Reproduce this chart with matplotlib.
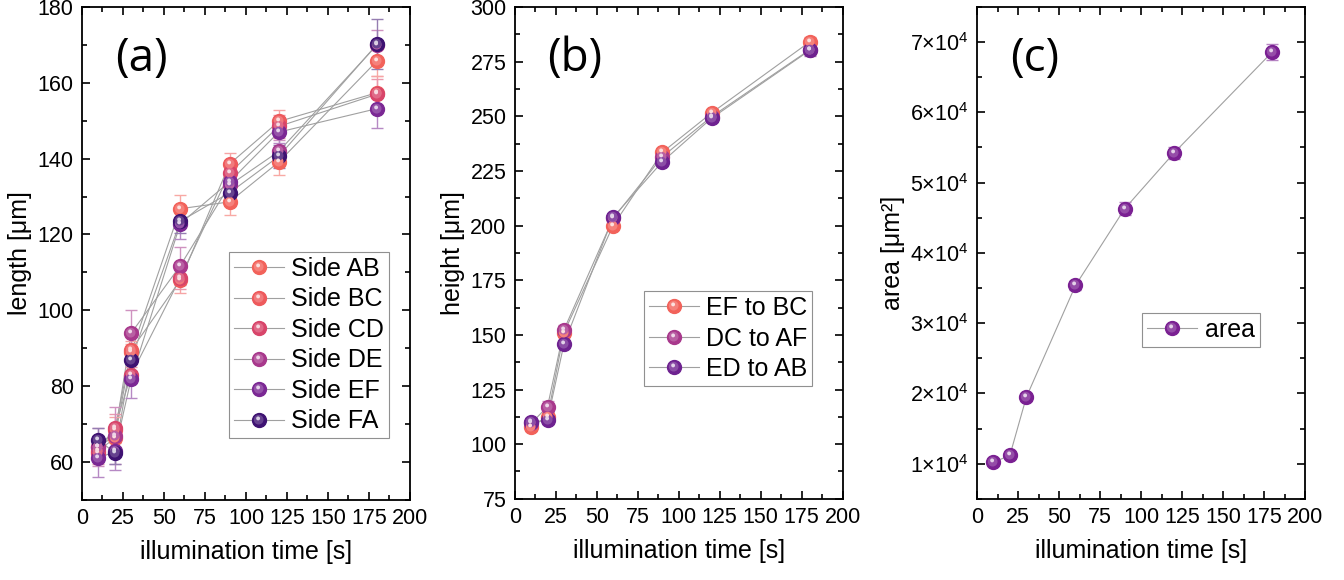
import matplotlib.pyplot as plt
import matplotlib.colors as mcolors
import numpy as np
from matplotlib.path import Path
from matplotlib.legend_handler import HandlerTuple
from matplotlib.ticker import MultipleLocator, FuncFormatter

plt.rcParams['font.family'] = ['Liberation Sans', 'DejaVu Sans']
plt.rcParams['mathtext.fontset'] = 'custom'
plt.rcParams['mathtext.rm'] = 'Liberation Sans'

# illumination times [s]
time_s = [10, 20, 30, 60, 90, 120, 180]

# (a) side lengths [um]
side_labels = ['Side AB', 'Side BC', 'Side CD', 'Side DE', 'Side EF', 'Side FA']
side_colors = ['#f2625a', '#ee5a5c', '#d8456a', '#a8388c', '#7b2894', '#3e1272']
side_length = [
    [63.0, 66.3, 89.0, 126.8, 128.6, 139.1, 165.8],
    [63.9, 68.5, 89.5, 108.0, 138.6, 149.8, 157.4],
    [62.5, 69.1, 83.0, 108.6, 136.2, 148.5, 157.0],
    [64.0, 66.9, 94.0, 111.8, 133.0, 141.9, 170.0],
    [61.0, 62.8, 82.0, 122.9, 133.9, 147.0, 153.2],
    [65.9, 62.4, 87.0, 123.5, 131.0, 140.6, 170.2],
]
side_err = [
    [2.5, 3.0, 2.0, 3.5, 3.5, 3.5, 4.0],
    [3.0, 3.5, 2.5, 3.5, 3.0, 3.0, 4.5],
    [3.0, 3.5, 2.0, 3.0, 3.0, 3.0, 4.0],
    [5.0, 7.5, 6.0, 5.0, 2.5, 3.0, 4.0],
    [5.0, 5.0, 5.0, 4.0, 3.0, 3.0, 5.0],
    [3.0, 3.0, 3.0, 3.0, 3.0, 3.0, 6.5],
]

# (b) heights [um]
height_labels = ['EF to BC', 'DC to AF', 'ED to AB']
height_colors = ['#f2625a', '#a8388c', '#6e2290']
height_vals = [
    [108.0, 112.5, 151.0, 200.0, 233.5, 251.5, 284.1],
    [109.5, 117.2, 152.3, 203.3, 231.5, 249.8, 280.5],
    [110.0, 111.1, 145.8, 203.8, 229.2, 249.1, 280.2],
]
height_err = [
    [2.0, 2.0, 2.0, 1.5, 1.5, 1.5, 2.0],
    [2.0, 2.5, 2.0, 1.5, 1.5, 1.5, 2.0],
    [2.0, 2.0, 2.0, 1.5, 1.5, 1.5, 2.5],
]

# (c) area [um^2]
area_label = 'area'
area_color = '#7a2092'
area_vals = [10200, 11180, 19440, 35360, 46280, 54200, 68590]
area_err = [400, 400, 500, 600, 900, 900, 1200]


def tint(c, amount):
    r = np.array(mcolors.to_rgb(c))
    return tuple(r + (1 - r) * amount)


def blob_marker(cx, cy, rad):
    # marker path with fixed extent so the blob can sit off-centre
    frame = Path([(-1, -1), (1, 1)], [Path.MOVETO, Path.MOVETO])
    circ = Path.circle((cx, cy), rad)
    return Path.make_compound_path(frame, circ)


shade_mk = blob_marker(-0.12, 0.12, 0.7)
spot_mk = blob_marker(-0.2, 0.3, 0.28)
MS = 10


def sphere_series(ax, x, y, err, color, label):
    ax.errorbar(x, y, yerr=err, fmt='o', ms=MS, color=color, mec=color,
                ecolor=tint(color, 0.45), elinewidth=1.0, capsize=4,
                capthick=1.0, zorder=3)
    ax.plot(x, y, color='#a0a0a0', lw=0.8, zorder=2)
    sh, = ax.plot(x, y, ls='none', marker=shade_mk, ms=MS,
                  color=tint(color, 0.2), mew=0, zorder=4)
    sp, = ax.plot(x, y, ls='none', marker=spot_mk, ms=MS,
                  color=tint(color, 0.8), mew=0, zorder=5)
    ln = plt.Line2D([], [], color='#a0a0a0', lw=0.8)
    mk = plt.Line2D([], [], ls='none', marker='o', ms=MS, color=color, mec=color)
    return (ln, mk, sh, sp), label


def style_axes(ax, ylim, ymaj, ymin):
    ax.set_xlim(0, 200)
    ax.set_ylim(*ylim)
    ax.xaxis.set_major_locator(MultipleLocator(25))
    ax.xaxis.set_minor_locator(MultipleLocator(12.5))
    ax.yaxis.set_major_locator(MultipleLocator(ymaj))
    ax.yaxis.set_minor_locator(MultipleLocator(ymin))
    ax.tick_params(which='both', direction='in', top=True, right=True,
                   labelsize=15.5, width=1.2, pad=6)
    ax.tick_params(which='major', length=6)
    ax.tick_params(which='minor', length=3.5)
    for s in ax.spines.values():
        s.set_linewidth(1.3)
    ax.set_xlabel('illumination time [s]', fontsize=18, labelpad=8)


def add_legend(ax, handles, labels, anchor):
    leg = ax.legend(handles, labels, loc='upper left', bbox_to_anchor=anchor,
                    handler_map={tuple: HandlerTuple(ndivide=1)},
                    fontsize=18, frameon=True, fancybox=False,
                    edgecolor='#909090', framealpha=1, handlelength=2.0,
                    handletextpad=0.3, borderpad=0.2, labelspacing=0.26,
                    borderaxespad=0)
    leg.get_frame().set_linewidth(0.8)


fig = plt.figure(figsize=(13.44, 5.8), dpi=100)
W, H = 0.244, 0.850
ax_a = fig.add_axes([0.061, 0.138, W, H])
ax_b = fig.add_axes([0.383, 0.140, W, H - 0.002])
ax_c = fig.add_axes([0.727, 0.140, W, H - 0.002])

# panel (a)
hs, ls = [], []
for vals, err, c, lab in zip(side_length, side_err, side_colors, side_labels):
    h, l = sphere_series(ax_a, time_s, vals, err, c, lab)
    hs.append(h)
    ls.append(l)
style_axes(ax_a, (50, 180), 20, 10)
ax_a.set_ylabel('length [μm]', fontsize=18, labelpad=4)
add_legend(ax_a, hs, ls, (0.448, 0.503))
ax_a.text(0.10, 0.895, '(a)', transform=ax_a.transAxes, fontsize=33,
          family='Open Sans', va='center', ha='left')

# panel (b)
hs, ls = [], []
for vals, err, c, lab in zip(height_vals, height_err, height_colors, height_labels):
    h, l = sphere_series(ax_b, time_s, vals, err, c, lab)
    hs.append(h)
    ls.append(l)
style_axes(ax_b, (75, 300), 25, 12.5)
ax_b.set_ylabel('height [μm]', fontsize=18, labelpad=4)
add_legend(ax_b, hs, ls, (0.393, 0.422))
ax_b.text(0.10, 0.895, '(b)', transform=ax_b.transAxes, fontsize=33,
          family='Open Sans', va='center', ha='left')

# panel (c)
h, l = sphere_series(ax_c, time_s, area_vals, area_err, area_color, area_label)
style_axes(ax_c, (5000, 75000), 10000, 5000)
ax_c.yaxis.set_major_formatter(
    FuncFormatter(lambda v, p: r'$\mathregular{%d{\times}10^{4}}$' % round(v / 1e4)))
ax_c.set_ylabel('area [μm²]', fontsize=18, labelpad=4)
add_legend(ax_c, [h], [l], (0.503, 0.378))
ax_c.text(0.10, 0.895, '(c)', transform=ax_c.transAxes, fontsize=33,
          family='Open Sans', va='center', ha='left')

fig.savefig('out.png', dpi=100)
